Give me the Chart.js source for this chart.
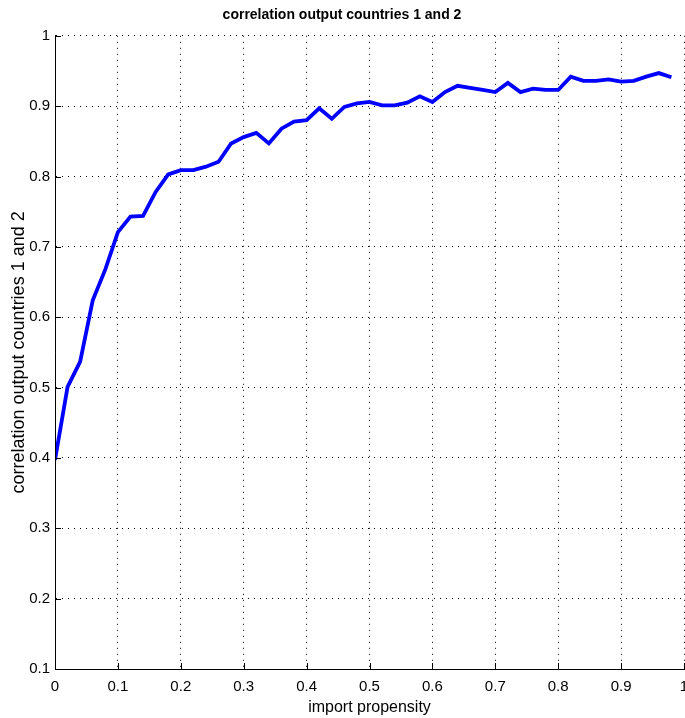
<!DOCTYPE html>
<html>
<head>
<meta charset="utf-8">
<script src="https://cdn.jsdelivr.net/npm/chart.js@4/dist/chart.umd.min.js"></script>
<style>
  html, body { margin: 0; padding: 0; background: #fff; }
  #wrap { width: 685px; height: 718px; }
</style>
</head>
<body>
<div id="wrap"><canvas id="chart" width="685" height="718"></canvas></div>
<script>
// 데이터: import propensity (0 ~ 0.98, 간격 0.02)
const importPropensity = [
    0.00, 0.02, 0.04, 0.06, 0.08, 0.10, 0.12, 0.14, 0.16, 0.18,
    0.20, 0.22, 0.24, 0.26, 0.28, 0.30, 0.32, 0.34, 0.36, 0.38,
    0.40, 0.42, 0.44, 0.46, 0.48, 0.50, 0.52, 0.54, 0.56, 0.58,
    0.60, 0.62, 0.64, 0.66, 0.68, 0.70, 0.72, 0.74, 0.76, 0.78,
    0.80, 0.82, 0.84, 0.86, 0.88, 0.90, 0.92, 0.94, 0.96, 0.98
];
// 상관계수
const correlation = [
    0.397, 0.501, 0.537, 0.624, 0.668, 0.721, 0.743, 0.744, 0.778, 0.803,
    0.809, 0.809, 0.814, 0.821, 0.847, 0.856, 0.862, 0.847, 0.868, 0.878,
    0.880, 0.897, 0.882, 0.899, 0.904, 0.906, 0.901, 0.901, 0.905, 0.914,
    0.906, 0.920, 0.929, 0.926, 0.923, 0.920, 0.933, 0.920, 0.925, 0.923,
    0.923, 0.942, 0.936, 0.936, 0.938, 0.935, 0.936, 0.942, 0.947, 0.941
];
const xTicks = [0, 0.1, 0.2, 0.3, 0.4, 0.5, 0.6, 0.7, 0.8, 0.9, 1];
const yTicks = [0.1, 0.2, 0.3, 0.4, 0.5, 0.6, 0.7, 0.8, 0.9, 1];

const narrow = "'Liberation Sans Narrow', 'Liberation Sans', Arial, sans-serif";

function fmt(v) {
    return (Math.abs(v - 1) < 1e-9) ? '1' : (Math.abs(v) < 1e-9 ? '0' : v.toFixed(1));
}

const ctx = document.getElementById('chart').getContext('2d');
new Chart(ctx, {
    type: 'line',
    data: {
        datasets: [{
            data: importPropensity.map((x, i) => ({ x: x, y: correlation[i] })),
            borderColor: 'rgb(0,0,255)',
            borderWidth: 3.8,
            pointRadius: 0,
            tension: 0,
            fill: false
        }]
    },
    options: {
        responsive: false,
        animation: false,
        layout: { padding: { left: 0, right: 1, top: 0, bottom: 0 } },
        plugins: {
            legend: { display: false },
            tooltip: { enabled: false },
            title: {
                display: true,
                text: 'correlation output countries 1 and 2',
                color: '#000',
                font: { family: narrow, size: 14, weight: 'bold' },
                padding: { top: 7, bottom: 12 }
            }
        },
        scales: {
            x: {
                type: 'linear',
                min: 0,
                max: 1,
                afterBuildTicks: (axis) => { axis.ticks = xTicks.map(v => ({ value: v })); },
                afterFit: (axis) => { axis.height = 49; axis.paddingRight = 0; axis.paddingLeft = 0; },
                ticks: {
                    color: '#000',
                    font: { family: narrow, size: 15 },
                    padding: 9,
                    maxRotation: 0,
                    autoSkip: false,
                    callback: (v) => fmt(v)
                },
                grid: {
                    color: '#000',
                    lineWidth: 1,
                    drawTicks: false
                },
                border: { display: true, color: '#000', width: 1, dash: [1, 5] },
                title: {
                    display: true,
                    text: 'import propensity',
                    color: '#000',
                    font: { family: narrow, size: 16 },
                    padding: { top: 0, bottom: 1 }
                }
            },
            y: {
                type: 'linear',
                min: 0.1,
                max: 1,
                afterBuildTicks: (axis) => { axis.ticks = yTicks.map(v => ({ value: v })); },
                afterFit: (axis) => { axis.width = 55; axis.paddingTop = 0; axis.paddingBottom = 0; },
                ticks: {
                    color: '#000',
                    font: { family: narrow, size: 15 },
                    padding: 5,
                    autoSkip: false,
                    callback: (v) => fmt(v)
                },
                grid: {
                    color: '#000',
                    lineWidth: 1,
                    drawTicks: false
                },
                border: { display: true, color: '#000', width: 1, dash: [1, 5] },
                title: {
                    display: true,
                    text: 'correlation output countries 1 and 2',
                    color: '#000',
                    font: { family: "'Liberation Sans', Arial, sans-serif", size: 18 },
                    padding: { top: 8, bottom: 0 }
                }
            }
        }
    },
    plugins: [{
        // 축 실선 (왼쪽, 아래) + 안쪽 눈금
        id: 'axisLines',
        afterDatasetsDraw(chart) {
            const { ctx, chartArea, scales } = chart;
            ctx.save();
            ctx.strokeStyle = '#000';
            ctx.lineWidth = 1;
            ctx.setLineDash([]);
            ctx.beginPath();
            ctx.moveTo(chartArea.left + 0.5, chartArea.top);
            ctx.lineTo(chartArea.left + 0.5, chartArea.bottom + 0.5);
            ctx.lineTo(chartArea.right, chartArea.bottom + 0.5);
            xTicks.forEach(v => {
                const px = Math.round(scales.x.getPixelForValue(v)) + 0.5;
                ctx.moveTo(px, chartArea.bottom);
                ctx.lineTo(px, chartArea.bottom - 6);
            });
            yTicks.forEach(v => {
                const py = Math.round(scales.y.getPixelForValue(v)) + 0.5;
                ctx.moveTo(chartArea.left, py);
                ctx.lineTo(chartArea.left + 6, py);
            });
            ctx.stroke();
            ctx.restore();
        }
    }]
});
</script>
</body>
</html>
